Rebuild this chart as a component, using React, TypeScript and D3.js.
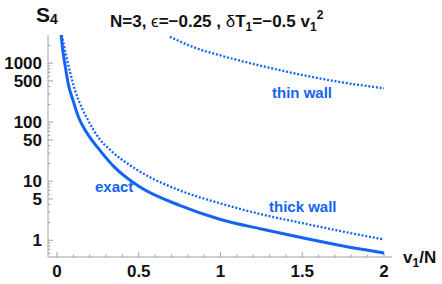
import React from 'react';
import * as d3 from 'd3';

const BLUE = '#1464f0';
const AXIS = '#a0a0a0';

// exact solution
const exactX = [0.025, 0.035, 0.05, 0.07, 0.1, 0.13, 0.17, 0.2, 0.26, 0.35, 0.5, 0.75, 1, 1.25, 1.5, 1.75, 2];
const exactY = [3000, 1700, 900, 430, 225, 125, 75, 56, 34, 17.5, 8.2, 3.9, 2.25, 1.55, 1.1, 0.8, 0.61];

// thick wall approximation
const thickX = [0.029, 0.05, 0.08, 0.11, 0.15, 0.19, 0.26, 0.33, 0.5, 0.75, 1, 1.25, 1.5, 1.75, 2];
const thickY = [3000, 1600, 700, 348, 180, 108, 52, 33, 15, 7.0, 4.2, 2.75, 1.95, 1.4, 1.03];

// thin wall approximation
const thinX = [0.69, 0.85, 1.0, 1.25, 1.5, 1.75, 2];
const thinY = [2800, 1800, 1350, 900, 630, 470, 375];

const xTicks = [0, 0.5, 1, 1.5, 2];
const xTickLabels = ['0', '0.5', '1', '1.5', '2'];
const yTicks = [1, 5, 10, 50, 100, 500, 1000];
const yTickLabels = ['1', '5', '10', '50', '100', '500', '1000'];

const App = () => {
  const width = 442;
  const height = 284;
  const axisX = 48;
  const axisY = 257;

  const x = d3.scaleLinear().domain([0, 2]).range([57, 384]);
  const y = d3.scaleLog().domain([0.5, 3000]).range([258, 35]);

  const line = d3
    .line<[number, number]>()
    .x(d => x(d[0]))
    .y(d => y(d[1]))
    .curve(d3.curveMonotoneX);

  const zip = (xs: number[], ys: number[]) => xs.map((v, i) => [v, ys[i]] as [number, number]);

  const xMinor = d3.range(0, 2.05, 0.1).filter(v => Math.abs(v * 2 - Math.round(v * 2)) > 1e-6);
  const yMinor: number[] = [];
  [0.1, 1, 10, 100, 1000].forEach(dec => {
    [2, 3, 4, 6, 7, 8, 9].forEach(m => {
      const v = dec * m;
      if (v >= 0.52 && v <= 2900) yMinor.push(v);
    });
  });

  const font = 'Liberation Sans, Arial, sans-serif';

  return (
    <svg width={width} height={height} style={{ position: 'absolute', left: 0, top: 0, background: '#fff' }}>
      <defs>
        <clipPath id="plot">
          <rect x={axisX} y={35} width={360} height={axisY - 35} />
        </clipPath>
      </defs>

      {/* axes */}
      <g stroke={AXIS} strokeWidth={1}>
        <line x1={axisX} x2={axisX} y1={35} y2={axisY} />
        <line x1={axisX} x2={392} y1={axisY} y2={axisY} />
        {xTicks.map(t => (
          <line key={'xt' + t} x1={x(t)} x2={x(t)} y1={axisY} y2={axisY - 5} />
        ))}
        {xMinor.map(t => (
          <line key={'xm' + t} x1={x(t)} x2={x(t)} y1={axisY} y2={axisY - 2.5} />
        ))}
        {yTicks.map(t => (
          <line key={'yt' + t} x1={axisX} x2={axisX + 5} y1={y(t)} y2={y(t)} />
        ))}
        {yMinor.map(t => (
          <line key={'ym' + t} x1={axisX} x2={axisX + 2.5} y1={y(t)} y2={y(t)} />
        ))}
      </g>

      {/* tick labels */}
      <g fontFamily={font} fontWeight="bold" fontSize={17} fill="#111">
        {xTicks.map((t, i) => (
          <text key={'xl' + t} x={x(t)} y={277} textAnchor="middle">
            {xTickLabels[i]}
          </text>
        ))}
        {yTicks.map((t, i) => (
          <text key={'yl' + t} x={42} y={y(t) + 6} textAnchor="end">
            {yTickLabels[i]}
          </text>
        ))}
      </g>

      {/* curves */}
      <g clipPath="url(#plot)" fill="none" stroke={BLUE}>
        <path d={line(zip(exactX, exactY)) || ''} strokeWidth={3} />
        <path d={line(zip(thickX, thickY)) || ''} strokeWidth={2.3} strokeDasharray="2 1.8" />
        <path d={line(zip(thinX, thinY)) || ''} strokeWidth={2.3} strokeDasharray="2 1.8" />
      </g>

      {/* series labels */}
      <g fontFamily={font} fontWeight="bold" fontSize={15} fill={BLUE}>
        <text x={95} y={192}>exact</text>
        <text x={269} y={212}>thick wall</text>
        <text x={272} y={98}>thin wall</text>
      </g>

      {/* axis titles */}
      <g fontFamily={font} fontWeight="bold" fill="#111">
        <text x={36} y={22} fontSize={21}>
          S<tspan fontSize={14} dy={2}>4</tspan>
        </text>
        <text x={110} y={27} fontSize={17}>
          N=3, <tspan fontWeight="normal">ϵ</tspan>=−0.25 , <tspan fontWeight="normal">δ</tspan>T
          <tspan fontSize={12} dy={4}>1</tspan>
          <tspan dy={-4}>=−0.5 v</tspan>
          <tspan fontSize={12} dy={4}>1</tspan>
          <tspan fontSize={12} dy={-12}>2</tspan>
        </text>
        <text x={403} y={263} fontSize={17}>
          v<tspan fontSize={12} dy={4}>1</tspan>
          <tspan dy={-4}>/N</tspan>
        </text>
      </g>
    </svg>
  );
};

export default App;
